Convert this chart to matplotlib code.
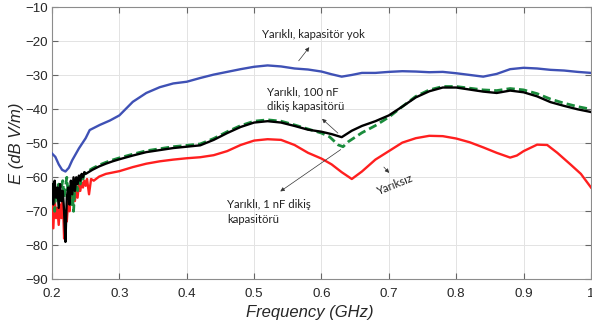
import matplotlib
matplotlib.use('Agg')
from matplotlib import pyplot as plt

# ---- data ----
freq_blue = [0.200, 0.205, 0.210, 0.215, 0.220, 0.225, 0.230, 0.240, 0.250, 0.256, 0.271,
             0.286, 0.300, 0.320, 0.340, 0.360, 0.380, 0.400, 0.420, 0.440, 0.460, 0.480,
             0.500, 0.520, 0.540, 0.560, 0.580, 0.600, 0.615, 0.630, 0.645, 0.660, 0.680,
             0.700, 0.720, 0.740, 0.760, 0.780, 0.800, 0.820, 0.840, 0.860, 0.880, 0.900,
             0.920, 0.940, 0.960, 0.980, 1.000]
e_blue = [-53.0, -54.0, -56.2, -57.8, -58.3, -57.2, -55.0, -51.5, -48.5, -46.1, -44.6,
          -43.3, -41.8, -37.8, -35.2, -33.5, -32.4, -31.9, -30.8, -29.8, -29.0, -28.2,
          -27.5, -27.1, -27.4, -28.0, -28.3, -28.9, -29.7, -30.4, -29.9, -29.3, -29.3,
          -29.0, -28.8, -28.9, -29.1, -29.0, -29.4, -29.9, -30.4, -29.6, -28.2, -27.8,
          -28.0, -28.4, -28.6, -29.0, -29.3]

freq_black = [0.200, 0.202, 0.204, 0.206, 0.208, 0.210, 0.212, 0.214, 0.216, 0.218, 0.220,
              0.222, 0.224, 0.226, 0.228, 0.230, 0.232, 0.234, 0.236, 0.238, 0.240, 0.242,
              0.244, 0.246, 0.248, 0.250, 0.260, 0.270, 0.280, 0.290, 0.300, 0.320, 0.340,
              0.360, 0.380, 0.400, 0.420, 0.440, 0.460, 0.480, 0.500, 0.520, 0.540, 0.560,
              0.580, 0.600, 0.615, 0.630, 0.645, 0.660, 0.680, 0.700, 0.720, 0.740, 0.760,
              0.780, 0.800, 0.820, 0.840, 0.860, 0.880, 0.900, 0.920, 0.940, 0.960, 0.980,
              1.000]
e_black = [-62.0, -68.0, -61.0, -66.0, -63.0, -69.0, -62.0, -67.0, -64.0, -70.0, -79.0,
           -66.0, -63.0, -68.0, -61.0, -65.0, -60.0, -64.0, -60.0, -62.0, -59.5, -61.0,
           -59.0, -60.0, -58.5, -59.0, -57.8, -56.8, -56.0, -55.3, -54.7, -53.6, -52.6,
           -52.0, -51.4, -51.0, -50.6, -49.0, -47.0, -45.2, -43.9, -43.5, -43.9, -44.9,
           -46.0, -46.6, -47.3, -48.2, -46.3, -44.9, -43.5, -41.8, -39.2, -36.5, -34.7,
           -33.6, -33.6, -34.2, -34.8, -35.2, -34.5, -35.0, -36.2, -37.9, -39.0, -40.0,
           -40.8]

freq_green = [0.200, 0.202, 0.204, 0.206, 0.208, 0.210, 0.212, 0.214, 0.216, 0.218, 0.220,
              0.222, 0.224, 0.226, 0.228, 0.230, 0.232, 0.234, 0.236, 0.238, 0.240, 0.242,
              0.244, 0.246, 0.248, 0.250, 0.260, 0.270, 0.280, 0.290, 0.300, 0.320, 0.340,
              0.360, 0.380, 0.400, 0.420, 0.440, 0.460, 0.480, 0.500, 0.520, 0.540, 0.560,
              0.580, 0.600, 0.612, 0.625, 0.632, 0.640, 0.660, 0.680, 0.700, 0.720, 0.740,
              0.760, 0.780, 0.800, 0.820, 0.840, 0.860, 0.880, 0.900, 0.920, 0.940, 0.960,
              0.980, 1.000]
e_green = [-68.0, -63.0, -70.0, -64.0, -66.0, -62.0, -67.0, -63.0, -61.0, -66.0, -63.0,
           -60.0, -65.0, -62.0, -68.0, -64.0, -70.0, -63.0, -61.0, -64.0, -60.0, -62.0,
           -59.5, -60.5, -58.8, -58.6, -57.4, -56.4, -55.6, -54.9, -54.3, -53.2, -52.2,
           -51.6, -51.0, -50.6, -50.2, -48.6, -46.6, -44.8, -43.5, -43.1, -43.5, -44.6,
           -45.8, -47.0, -48.1, -50.5, -51.0, -49.5, -46.9, -44.8, -42.3, -39.2, -36.2,
           -34.3, -33.3, -33.3, -33.8, -34.3, -34.5, -33.9, -34.3, -35.4, -37.0, -38.2,
           -39.2, -40.0]

freq_red = [0.200, 0.202, 0.204, 0.206, 0.208, 0.210, 0.212, 0.214, 0.216, 0.218, 0.220,
            0.222, 0.224, 0.226, 0.228, 0.230, 0.232, 0.234, 0.236, 0.238, 0.240, 0.242,
            0.244, 0.246, 0.248, 0.250, 0.252, 0.255, 0.258, 0.262, 0.270, 0.280, 0.290,
            0.300, 0.320, 0.340, 0.360, 0.380, 0.400, 0.420, 0.440, 0.460, 0.480, 0.500,
            0.520, 0.540, 0.560, 0.580, 0.600, 0.615, 0.630, 0.645, 0.660, 0.680, 0.700,
            0.720, 0.740, 0.760, 0.780, 0.800, 0.820, 0.840, 0.860, 0.880, 0.890, 0.900,
            0.920, 0.935, 0.950, 0.970, 0.985, 1.000]
e_red = [-64.0, -75.0, -66.0, -72.0, -69.0, -74.0, -68.0, -72.0, -66.0, -78.0, -70.0,
         -73.0, -67.0, -70.0, -65.0, -68.0, -64.0, -67.0, -63.0, -66.0, -62.0, -64.0,
         -61.5, -63.0, -61.0, -62.5, -60.5, -65.0, -60.5, -61.0, -59.8, -59.0, -58.6,
         -58.2, -57.0, -56.0, -55.3, -54.8, -54.4, -54.1, -53.5, -52.3, -50.5, -49.2,
         -48.8, -49.0, -50.5, -52.8, -54.5, -56.2, -58.5, -60.5, -58.3, -54.8, -52.3,
         -49.8, -48.5, -47.8, -47.9, -48.6, -49.7, -51.2, -52.8, -54.2, -53.6, -52.3,
         -50.4, -50.5, -52.8, -56.3, -59.0, -63.0]

x_ticks = [0.2, 0.3, 0.4, 0.5, 0.6, 0.7, 0.8, 0.9, 1.0]
x_tick_labels = ['0.2', '0.3', '0.4', '0.5', '0.6', '0.7', '0.8', '0.9', '1']
y_ticks = [-90, -80, -70, -60, -50, -40, -30, -20, -10]

fig = plt.figure(figsize=(5.92, 3.31), dpi=100)
ax = fig.add_axes([0.0878, 0.1562, 0.9105, 0.8218])

ax.plot(freq_blue, e_blue, color='#3f51b5', lw=1.7, zorder=3)
ax.plot(freq_red, e_red, color='#ff1f1f', lw=1.7, zorder=3)
ax.plot(freq_green, e_green, color='#1a8c3c', lw=2.0, ls=(0, (3, 1.5)), zorder=3)
ax.plot(freq_black, e_black, color='black', lw=1.7, zorder=4)

ax.set_xlim(0.2, 1.0)
ax.set_ylim(-90, -10)
ax.set_xticks(x_ticks)
ax.set_xticklabels(x_tick_labels)
ax.set_yticks(y_ticks)
ax.grid(True, color='#e3e3e3', lw=0.7)
ax.set_axisbelow(True)
for s in ax.spines.values():
    s.set_color('#8c8c8c')
    s.set_linewidth(0.8)
ax.tick_params(direction='in', top=True, right=True, length=4, color='#666666',
               labelcolor='#262626', labelsize=9.6)
ax.tick_params(axis='x', pad=6)
ax.tick_params(axis='y', pad=3)
for lab in ax.get_xticklabels() + ax.get_yticklabels():
    lab.set_family('Liberation Sans')

ax.set_ylabel('E (dB V/m)', fontsize=12, style='italic', family='Liberation Sans',
              color='#262626', labelpad=1)
fig.text(310 / 592, 1 - 313 / 331, 'Frequency (GHz)', fontsize=12, style='italic',
         family='Liberation Sans', color='#262626', ha='center', va='center')

# annotations
ann = dict(fontsize=8.2, family='Lato', color='#222222')
arr = dict(arrowstyle='-|>', color='#333333', lw=0.5, mutation_scale=6)

def px(x, y):
    return (x / 592, 1 - y / 331)

fig.text(*px(313, 34), 'Yarıklı, kapasitör yok', ha='center', va='center', **ann)
fig.text(*px(267, 99), 'Yarıklı, 100 nF\ndikiş kapasitörü', ha='left', va='center',
         linespacing=1.45, **ann)
fig.text(*px(227, 212), 'Yarıklı, 1 nF dikiş\nkapasitörü', ha='left', va='center',
         linespacing=1.5, **ann)
fig.text(*px(395, 185), 'Yarıksız', ha='center', va='center', rotation=22, **ann)

for (x0, y0), (x1, y1) in [((297, 63), (311, 45)), ((340, 135), (320, 117)),
                           ((343, 148), (278, 193)), ((382, 165), (391, 175))]:
    ax.annotate('', xy=px(x1, y1), xytext=px(x0, y0), xycoords='figure fraction',
                textcoords='figure fraction', arrowprops=arr)

fig.savefig('out.png', dpi=100)
